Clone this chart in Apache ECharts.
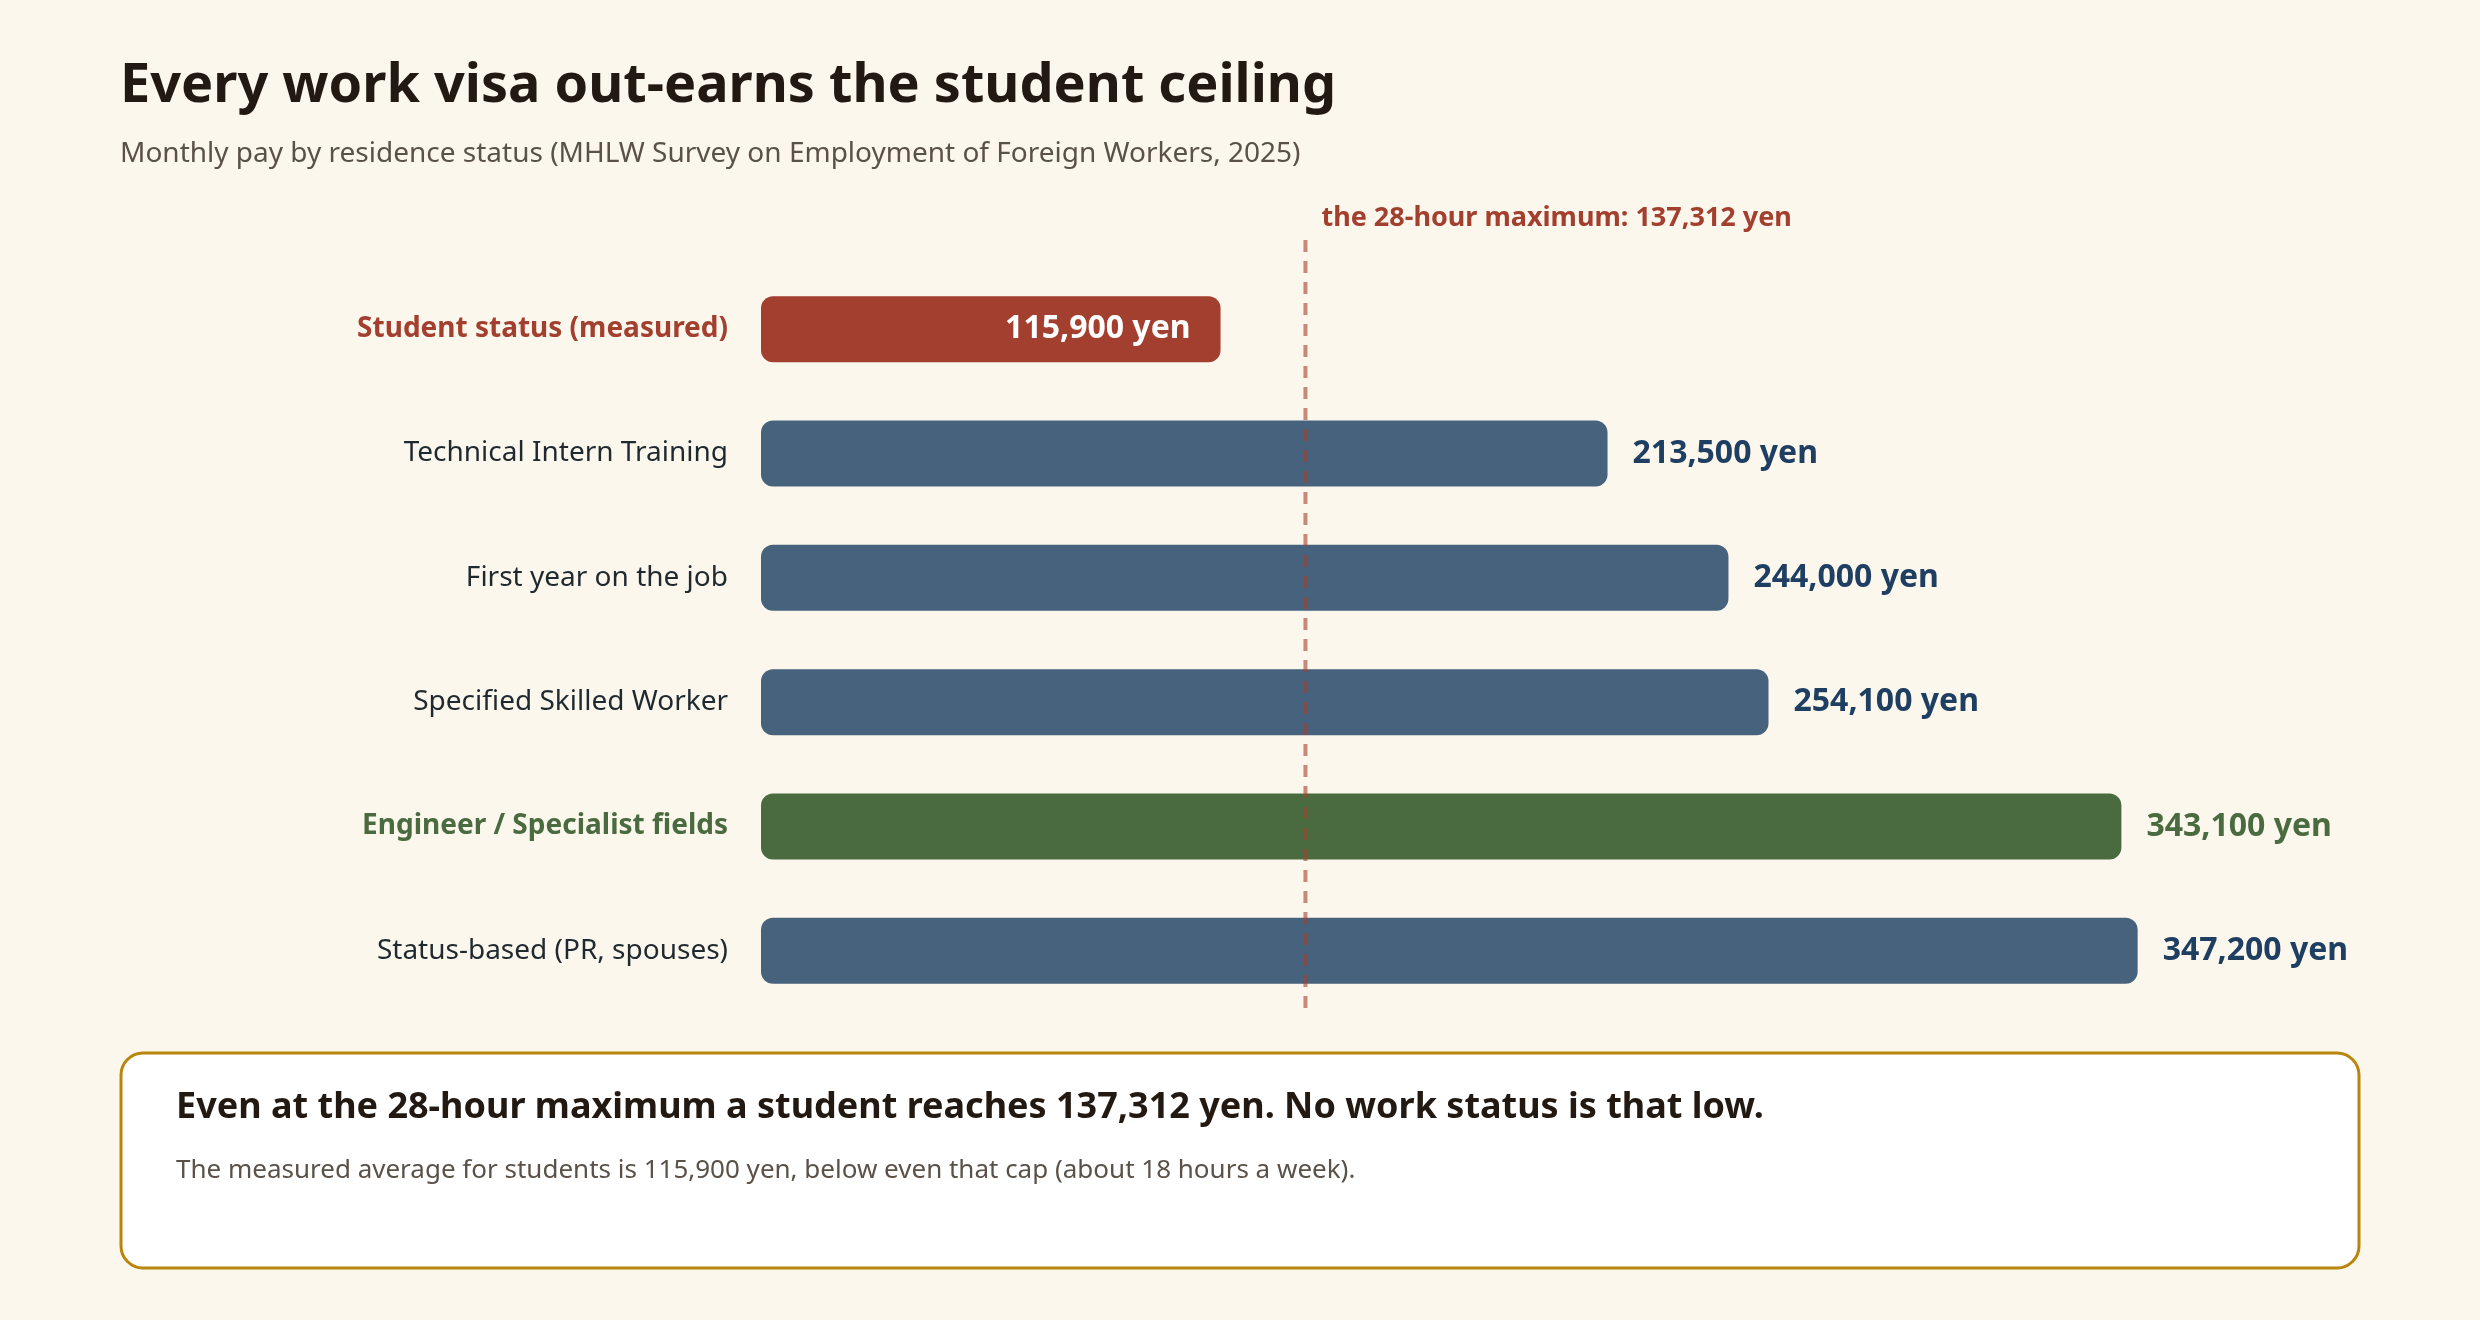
<!DOCTYPE html>
<html><head><meta charset="utf-8">
<script src="https://cdn.jsdelivr.net/npm/echarts@6/dist/echarts.min.js"></script>
<style>html,body{margin:0;padding:0;background:#fcf7ec}#c{width:2480px;height:1320px}</style>
</head><body><div id="c"></div>
<script>
const categories = ["Student status (measured)","Technical Intern Training","First year on the job","Specified Skilled Worker","Engineer / Specialist fields","Status-based (PR, spouses)"];
const values = [115900,213500,244000,254100,343100,347200];
const capValue = 137312;
const barColors = ["#a33f2e","#46627c","#46627c","#46627c","#4a6b40","#46627c"];
const labelColors = ["#a33f2e","#1f2a30","#1f2a30","#1f2a30","#4a6b40","#1f2a30"];
const valueColors = ["#ffffff","#1f3f62","#1f3f62","#1f3f62","#4a6b40","#1f3f62"];
const F = "Noto Sans";
const fmt = v => v.toLocaleString('en-US') + ' yen';
const chart = echarts.init(document.getElementById('c'));
chart.setOption({
  backgroundColor:'#fcf7ec',
  textStyle:{fontFamily:F},
  grid:{left:761,top:267,width:1586,height:746},
  xAxis:{type:'value',min:0,max:400000,show:false},
  yAxis:{type:'category',inverse:true,data:categories,axisLine:{show:false},axisTick:{show:false},
    axisLabel:{margin:33,fontSize:28,fontFamily:F,
      color:(v,i)=>labelColors[i],
      formatter:(v,i)=>(i===0||i===4)?'{b|'+v+'}':v,
      rich:{b:{fontWeight:'bold',fontSize:28,fontFamily:F}}}},
  series:[{type:'bar',barWidth:66,
    data:values.map((v,i)=>({value:v,itemStyle:{color:barColors[i],borderRadius:12},
      label:{show:true,position:i===0?'insideRight':'right',distance:i===0?30:25,
        color:valueColors[i],fontWeight:'bold',fontSize:32,fontFamily:F,formatter:p=>fmt(p.value)}}))}]
});
const xCap = chart.convertToPixel({xAxisIndex:0}, capValue);
chart.setOption({graphic:[
  {type:'text',left:120,top:60,style:{text:'Every work visa out-earns the student ceiling',font:'bold 54px "Noto Sans"',fill:'#221a12'}},
  {type:'text',left:120,top:140,style:{text:'Monthly pay by residence status (MHLW Survey on Employment of Foreign Workers, 2025)',font:'28px "Noto Sans"',fill:'#5a5148'}},
  {type:'line',z:10,shape:{x1:xCap,y1:240,x2:xCap,y2:1013},style:{stroke:'rgba(163,63,46,0.6)',lineWidth:4,lineDash:[12,9]}},
  {type:'text',x:xCap+16,y:205,style:{text:'the 28-hour maximum: '+capValue.toLocaleString('en-US')+' yen',font:'bold 27px "Noto Sans"',fill:'#a33f2e'}},
  {type:'rect',shape:{x:121,y:1053,width:2238,height:215,r:22},style:{fill:'#ffffff',stroke:'#b8860b',lineWidth:3}},
  {type:'text',x:176,y:1090,style:{text:'Even at the 28-hour maximum a student reaches '+capValue.toLocaleString('en-US')+' yen. No work status is that low.',font:'bold 36px "Noto Sans"',fill:'#221a12'}},
  {type:'text',x:176,y:1158,style:{text:'The measured average for students is '+values[0].toLocaleString('en-US')+' yen, below even that cap (about 18 hours a week).',font:'26px "Noto Sans"',fill:'#5a5148'}}
]});
</script></body></html>
